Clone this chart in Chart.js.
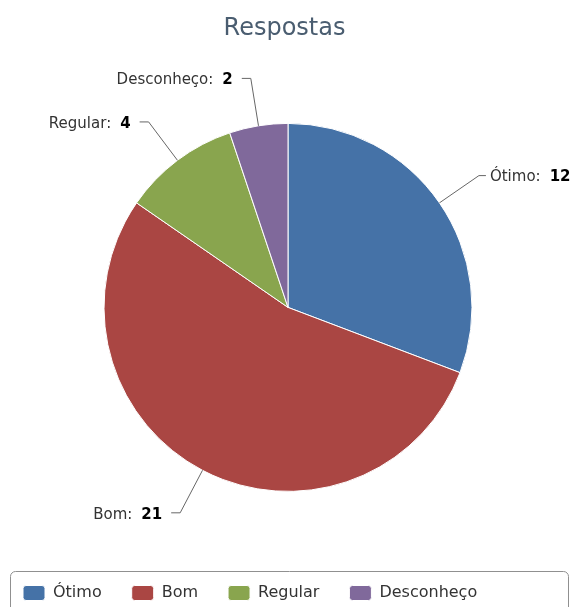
<!DOCTYPE html>
<html lang="pt">
<head>
<meta charset="utf-8">
<title>Respostas</title>
<script src="https://cdn.jsdelivr.net/npm/chart.js@4/dist/chart.umd.min.js"></script>
<style>
  html, body { margin: 0; padding: 0; background: #fff; }
  #wrap { width: 579px; height: 607px; position: relative; }
</style>
</head>
<body>
<div id="wrap"><canvas id="grafico"></canvas></div>
<script>
const categorias = ['Ótimo', 'Bom', 'Regular', 'Desconheço'];
const respostas = [12, 21, 4, 2];

const cores = ['#4572A7', '#AA4643', '#89A54E', '#80699B'];
const FONTE = "'DejaVu Sans', Verdana, sans-serif";

// rótulos externos "Nome:  valor" com linha de ligação
const rotulosFatias = {
  id: 'rotulosFatias',
  afterDatasetsDraw(chart) {
    const ctx = chart.ctx;
    const meta = chart.getDatasetMeta(0);
    const valores = chart.data.datasets[0].data;
    ctx.save();
    meta.data.forEach((arco, i) => {
      const { x, y, startAngle, endAngle, outerRadius } = arco.getProps(['x', 'y', 'startAngle', 'endAngle', 'outerRadius'], true);
      const meio = (startAngle + endAngle) / 2;
      const cos = Math.cos(meio), sin = Math.sin(meio);
      const direita = cos >= 0;
      const borda = { x: x + outerRadius * cos, y: y + outerRadius * sin };
      const quebra = { x: x + (outerRadius + 48) * cos, y: y + (outerRadius + 48) * sin };
      const fim = { x: quebra.x + (direita ? 7 : -9), y: quebra.y };

      ctx.beginPath();
      ctx.moveTo(borda.x, borda.y);
      ctx.lineTo(quebra.x, quebra.y);
      ctx.lineTo(fim.x, fim.y);
      ctx.strokeStyle = '#666';
      ctx.lineWidth = 1;
      ctx.stroke();

      const nome = chart.data.labels[i] + ':';
      const valor = String(valores[i]);
      ctx.textBaseline = 'middle';
      ctx.textAlign = 'left';
      ctx.font = '15px ' + FONTE;
      const wNome = ctx.measureText(nome).width;
      ctx.font = 'bold 15px ' + FONTE;
      const wValor = ctx.measureText(valor).width;
      const espaco = 9;
      const total = wNome + espaco + wValor;
      const x0 = direita ? fim.x + 4 : fim.x - 9 - total;
      const yt = fim.y + 2;

      ctx.font = '15px ' + FONTE;
      ctx.fillStyle = '#333';
      ctx.fillText(nome, x0, yt);
      ctx.font = 'bold 15px ' + FONTE;
      ctx.fillStyle = '#000';
      ctx.fillText(valor, x0 + wNome + espaco, yt);
    });
    ctx.restore();
  }
};

// moldura arredondada da legenda
const molduraLegenda = {
  id: 'molduraLegenda',
  afterDraw(chart) {
    const ctx = chart.ctx;
    const topo = chart.legend.top + 16.5;
    const esq = 10.5, dir = chart.width - 10.5;
    ctx.save();
    ctx.beginPath();
    ctx.roundRect(esq, topo, dir - esq, 60, 5);
    ctx.strokeStyle = '#909090';
    ctx.lineWidth = 1;
    ctx.stroke();
    ctx.restore();
  }
};

new Chart(document.getElementById('grafico'), {
  type: 'pie',
  data: {
    labels: categorias,
    datasets: [{
      data: respostas,
      backgroundColor: cores,
      borderColor: '#fff',
      borderWidth: 1
    }]
  },
  plugins: [rotulosFatias, molduraLegenda],
  options: {
    responsive: true,
    maintainAspectRatio: false,
    animation: false,
    radius: 184,
    layout: { padding: { top: 0, left: -7, right: 3, bottom: -4 } },
    events: [],
    plugins: {
      title: {
        display: true,
        text: 'Respostas',
        color: '#4A5D70',
        font: { family: FONTE, size: 24, weight: 'normal' },
        padding: { top: 14, bottom: 17 }
      },
      legend: {
        position: 'bottom',
        align: 'start',
        labels: {
          color: '#333',
          font: { family: FONTE, size: 16 },
          boxWidth: 22,
          boxHeight: 15,
          padding: 30,
          useBorderRadius: true,
          borderRadius: 3
        }
      },
      tooltip: { enabled: false }
    }
  }
});
</script>
</body>
</html>
